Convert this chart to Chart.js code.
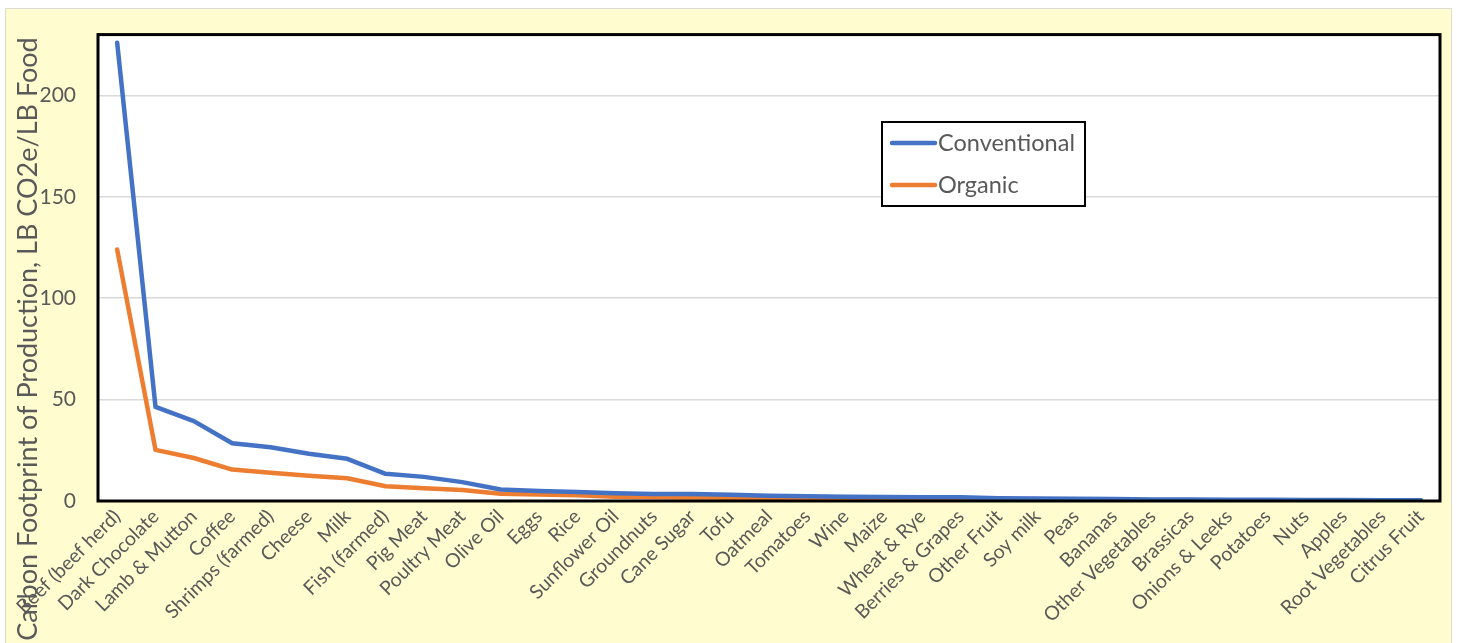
<!DOCTYPE html>
<html>
<head>
<meta charset="utf-8">
<script src="https://cdn.jsdelivr.net/npm/chart.js@4"></script>
<style>
  html, body { margin: 0; padding: 0; background: #fff; }
  #wrap { width: 1457px; height: 643px; }
</style>
</head>
<body>
<div id="wrap"><canvas id="chart" width="1457" height="643"></canvas></div>
<script>
  // food categories, highest footprint first
  const foods = [
    'Beef (beef herd)', 'Dark Chocolate', 'Lamb & Mutton', 'Coffee', 'Shrimps (farmed)',
    'Cheese', 'Milk', 'Fish (farmed)', 'Pig Meat', 'Poultry Meat', 'Olive Oil', 'Eggs',
    'Rice', 'Sunflower Oil', 'Groundnuts', 'Cane Sugar', 'Tofu', 'Oatmeal', 'Tomatoes',
    'Wine', 'Maize', 'Wheat & Rye', 'Berries & Grapes', 'Other Fruit', 'Soy milk', 'Peas',
    'Bananas', 'Other Vegetables', 'Brassicas', 'Onions & Leeks', 'Potatoes', 'Nuts',
    'Apples', 'Root Vegetables', 'Citrus Fruit'
  ];
  // LB CO2e per LB food
  const conventional = [
    226, 46.4, 39.4, 28.5, 26.5, 23.3, 20.8, 13.4, 11.9, 9.3, 5.7, 4.9,
    4.4, 3.8, 3.4, 3.4, 3.1, 2.6, 2.3, 2.1, 2.0, 1.9, 1.8, 1.3, 1.2, 1.1,
    1.0, 0.7, 0.7, 0.6, 0.6, 0.5, 0.5, 0.4, 0.4
  ];
  const organic = [
    124, 25.2, 21.2, 15.5, 13.9, 12.5, 11.2, 7.3, 6.3, 5.4, 3.6, 3.2,
    2.8, 2.1, 1.8, 1.7, 1.6, 1.4, 1.2, 1.2, 1.1, 1.0, 1.0, 0.8, 0.7, 0.6,
    0.6, 0.4, 0.4, 0.4, 0.3, 0.3, 0.3, 0.2, 0.2
  ];
  const yTicks = [0, 50, 100, 150, 200];
  const yTitle = 'Carbon Footprint of Production, LB CO2e/LB Food';

  const TEXT = '#595959';
  const FONT = 'Lato, "Open Sans", sans-serif';

  // yellow panel, white plot area, black frame, y title and a boxed legend
  const frame = {
    id: 'frame',
    beforeDraw(chart) {
      const ctx = chart.ctx;
      const a = chart.chartArea;
      ctx.save();
      ctx.fillStyle = '#ffffff';
      ctx.fillRect(0, 0, chart.width, chart.height);
      ctx.fillStyle = '#fffdcf';
      ctx.fillRect(5, 8, 1447, 640);
      ctx.strokeStyle = '#dcdcd0';
      ctx.lineWidth = 1;
      ctx.strokeRect(5.5, 8.5, 1446, 640);
      ctx.fillStyle = '#ffffff';
      ctx.fillRect(a.left, a.top, a.right - a.left, a.bottom - a.top);
      ctx.restore();
    },
    afterDraw(chart) {
      const ctx = chart.ctx;
      const a = chart.chartArea;
      ctx.save();
      ctx.strokeStyle = '#000';
      ctx.lineWidth = 3;
      ctx.strokeRect(a.left, a.top, a.right - a.left, a.bottom - a.top);

      // axis title
      ctx.translate(28, 339);
      ctx.rotate(-Math.PI / 2);
      ctx.fillStyle = TEXT;
      ctx.font = '27px ' + FONT;
      ctx.textAlign = 'center';
      ctx.textBaseline = 'middle';
      ctx.fillText(yTitle, 0, 0);
      ctx.restore();

      // legend
      ctx.save();
      const lx = 882, ly = 122, lw = 203, lh = 84;
      ctx.fillStyle = '#fff';
      ctx.fillRect(lx, ly, lw, lh);
      ctx.strokeStyle = '#000';
      ctx.lineWidth = 2;
      ctx.strokeRect(lx, ly, lw, lh);
      ctx.font = '23.5px ' + FONT;
      ctx.textBaseline = 'middle';
      chart.data.datasets.forEach((ds, i) => {
        const y = 143 + i * 42;
        ctx.strokeStyle = ds.borderColor;
        ctx.lineWidth = 4.5;
        ctx.lineCap = 'round';
        ctx.beginPath();
        ctx.moveTo(892, y);
        ctx.lineTo(935, y);
        ctx.stroke();
        ctx.fillStyle = TEXT;
        ctx.fillText(ds.label, 938, y);
      });
      ctx.restore();
    }
  };

  new Chart(document.getElementById('chart'), {
    type: 'line',
    data: {
      labels: foods,
      datasets: [
        {
          label: 'Conventional',
          data: conventional,
          borderColor: '#4472c4',
          borderWidth: 4.5,
          borderCapStyle: 'round',
          borderJoinStyle: 'round',
          pointRadius: 0,
          tension: 0
        },
        {
          label: 'Organic',
          data: organic,
          borderColor: '#ed7d31',
          borderWidth: 4.5,
          borderCapStyle: 'round',
          borderJoinStyle: 'round',
          pointRadius: 0,
          tension: 0
        }
      ]
    },
    options: {
      responsive: false,
      animation: false,
      layout: { padding: { top: 31, right: 17, left: 0, bottom: 0 } },
      plugins: {
        legend: { display: false },
        tooltip: { enabled: false }
      },
      scales: {
        x: {
          offset: true,
          grid: { display: false, drawTicks: false },
          border: { display: false },
          ticks: {
            autoSkip: false,
            maxRotation: 45,
            minRotation: 45,
            padding: 4,
            color: TEXT,
            font: { family: FONT, size: 19.5 }
          },
          afterFit: s => { s.height = 142; }
        },
        y: {
          min: 0,
          max: 230,
          grid: { color: '#d9d9d9', lineWidth: 1.5, drawTicks: false },
          border: { display: false },
          ticks: {
            stepSize: 50,
            padding: 22,
            color: TEXT,
            font: { family: FONT, size: 21 }
          },
          afterBuildTicks: s => {
            s.ticks = yTicks.map(v => ({ value: v }));
          },
          afterFit: s => { s.width = 98; }
        }
      }
    },
    plugins: [frame]
  });
</script>
</body>
</html>
